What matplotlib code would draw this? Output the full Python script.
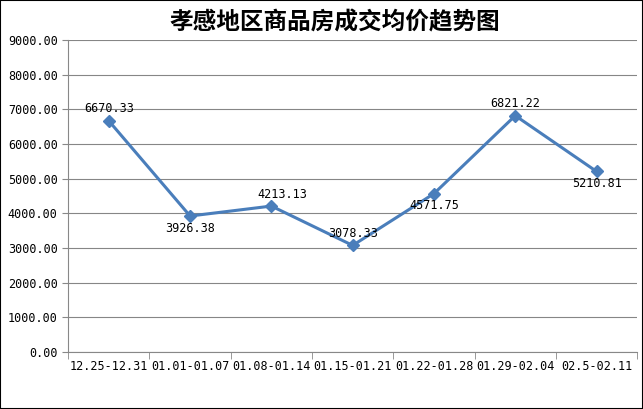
import matplotlib.pyplot as plt
from matplotlib.patches import Rectangle

plt.rcParams['font.family'] = ['Noto Sans CJK SC', 'DejaVu Sans']

periods = ['12.25-12.31', '01.01-01.07', '01.08-01.14', '01.15-01.21',
           '01.22-01.28', '01.29-02.04', '02.5-02.11']
prices = [6670.33, 3926.38, 4213.13, 3078.33, 4571.75, 6821.22, 5210.81]
label_above = [True, False, True, True, False, True, False]

fig = plt.figure(figsize=(6.43, 4.09), dpi=100)
fig.patches.append(Rectangle((0, 0), 1, 1, transform=fig.transFigure,
                             fill=False, edgecolor='black', linewidth=1.5))
ax = fig.add_axes([0.106, 0.139, 0.885, 0.763])

x = range(len(prices))
ax.plot(x, prices, color='#4a7ebb', linewidth=2.2, marker='D', markersize=6)
for xi, v, up in zip(x, prices, label_above):
    off = 4 if up else -4
    dx = 8 if xi == 2 else 0
    ax.annotate(f'{v:.2f}', (xi, v), xytext=(dx, off), textcoords='offset points',
                ha='center', va='bottom' if up else 'top', fontsize=8.5,
                family='DejaVu Sans Mono')

ax.set_xlim(-0.5, len(prices) - 0.5)
ax.set_ylim(0, 9000)
ax.set_yticks(range(0, 9001, 1000))
ax.set_yticklabels([f'{t:.2f}' for t in range(0, 9001, 1000)],
                   fontsize=8.5, family='DejaVu Sans Mono')
ax.set_xticks(list(x))
ax.set_xticklabels(periods, fontsize=8.5, family='DejaVu Sans Mono')
ax.set_xticks([i + 0.5 for i in range(-1, len(prices))], minor=True)
ax.tick_params(axis='x', which='major', length=0, pad=6)
ax.tick_params(axis='x', which='minor', length=5, color='#888888')
ax.tick_params(axis='y', length=4, color='#888888')
ax.grid(axis='y', color='#868686', linewidth=0.8)
ax.set_axisbelow(True)
for s in ['top', 'right']:
    ax.spines[s].set_visible(False)
for s in ['left', 'bottom']:
    ax.spines[s].set_color('#888888')

fig.text(0.52, 0.945, '孝感地区商品房成交均价趋势图', ha='center', va='center',
         fontsize=17, fontweight='bold')

fig.savefig('out.png', dpi=100)
